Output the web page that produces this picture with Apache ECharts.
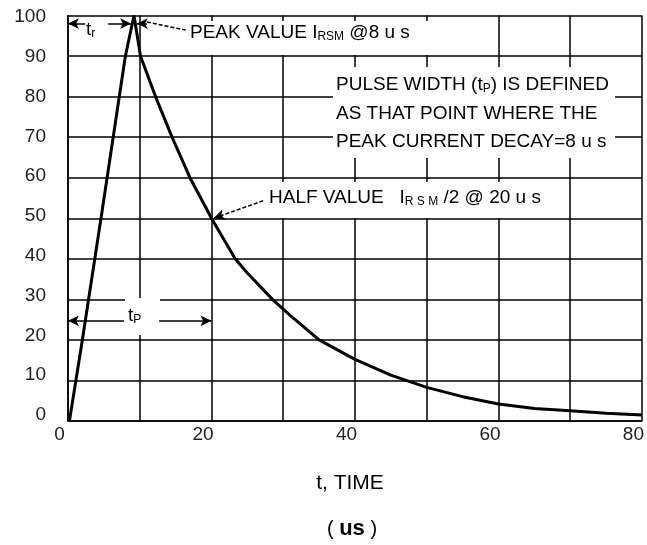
<!DOCTYPE html>
<html><head><meta charset="utf-8">
<script src="https://cdn.jsdelivr.net/npm/echarts@6/dist/echarts.min.js"></script>
<style>html,body{margin:0;padding:0;background:#fff}#c{width:647px;height:545px}</style>
</head><body><div id="c"></div>
<script>
// Pulse waveform: time (us) vs peak current (%)
const timeUs = [0.2, 2, 4.6, 8, 9.2, 10.1, 12.2, 14.5, 17, 20, 23.3, 25, 28.5, 31, 35, 40, 45, 50, 55, 60, 65, 70, 75, 80];
const currentPct = [0, 20, 50, 90, 100, 90, 80, 70, 60, 50, 40, 36.5, 30, 26, 20, 15.2, 11.3, 8.3, 6, 4.2, 3.1, 2.5, 1.9, 1.5];
const xTickLabels = [0, 20, 40, 60, 80];
const yTickLabels = [0, 10, 20, 30, 40, 50, 60, 70, 80, 90, 100];
const xTitle = 't, TIME';
const xUnit = 'us';

const FONT = 'Liberation Sans, Arial, sans-serif';
const chart = echarts.init(document.getElementById('c'), null, {renderer: 'canvas'});

const arrowLine = (a, b, arrowEnd, dashed) => [
  {coord: a, symbol: 'none'},
  {coord: b, symbol: arrowEnd ? 'arrow' : 'none', symbolSize: [8, 11],
   lineStyle: {color: '#000', width: 1.5, type: dashed ? [4, 2] : 'solid'}}
];

const sub = {s: {fontSize: 12, fontFamily: FONT, fill: '#000', padding: [8, 0, 0, 0]}};

function txt(x, y, text, size, extra) {
  return {type: 'text', z: 10, x: x, y: y,
    style: Object.assign({text: text, fontSize: size || 19, fontFamily: FONT, fill: '#000',
      verticalAlign: 'middle', align: 'left', rich: sub}, extra || {})};
}
function box(x, y, w, h) {
  return {type: 'rect', z: 1, shape: {x: x, y: y, width: w, height: h}, style: {fill: '#fff'}};
}

chart.setOption({
  animation: false,
  backgroundColor: '#fff',
  grid: {left: 68, right: 0, top: 15.5, bottom: 124, containLabel: false},
  xAxis: {
    type: 'value', min: 0, max: 80, interval: 10,
    axisLine: {show: true, lineStyle: {color: '#000', width: 1.5}},
    axisTick: {show: false},
    splitLine: {show: true, lineStyle: {color: '#000', width: 1.5}},
    axisLabel: {
      fontSize: 19, fontFamily: FONT, color: '#222', margin: 4,
      padding: [0, 17, 0, 0],
      formatter: v => xTickLabels.indexOf(v) >= 0 ? String(v) : ''
    }
  },
  yAxis: [{
    type: 'value', min: 0, max: 100, interval: 10,
    axisLine: {show: true, lineStyle: {color: '#000', width: 1.5}},
    axisTick: {show: false},
    splitLine: {show: true, lineStyle: {color: '#000', width: 1.5}},
    axisLabel: {show: false}
  }, {
    type: 'value', min: -1.508, max: 100.377, position: 'left',
    axisLine: {show: false}, axisTick: {show: false}, splitLine: {show: false},
    axisLabel: {show: true, customValues: yTickLabels, fontSize: 19, fontFamily: FONT, color: '#222', margin: 22}
  }],
  series: [{
    type: 'line', yAxisIndex: 0, showSymbol: false, symbol: 'none', z: 5,
    data: timeUs.map((t, i) => [t, currentPct[i]]),
    lineStyle: {color: '#000', width: 3},
    markLine: {
      silent: true, symbol: 'none', label: {show: false},
      lineStyle: {color: '#000', width: 1.5, type: 'solid'},
      data: [
        arrowLine([2.4, 98], [0, 98], true),
        arrowLine([5.6, 98], [8.8, 98], true),
        arrowLine([11, 98], [9.6, 98], true),
        arrowLine([11, 98.4], [16.4, 96.4], false, true),
        arrowLine([27.2, 54.3], [20.3, 50], true, true),
        arrowLine([7.8, 24.7], [0, 24.7], true),
        arrowLine([12.7, 24.7], [20, 24.7], true)
      ]
    }
  }],
  graphic: [
    box(184, 21, 290, 34),
    box(333, 67, 282, 91),
    box(263, 182, 300, 36),
    box(125, 298, 35, 37),
    txt(86, 30, 't{s|r}'),
    txt(190, 33, 'PEAK VALUE I{s|RSM} @8 u s'),
    txt(336, 85, 'PULSE WIDTH (t{s|P}) IS DEFINED'),
    txt(336, 114, 'AS THAT POINT WHERE THE'),
    txt(336, 142, 'PEAK CURRENT DECAY=8 u s'),
    txt(269, 198, 'HALF VALUE   I{s|R S M} /2 @ 20 u s'),
    txt(128, 316, 't{s|P}'),
    txt(350, 483, xTitle, 21, {align: 'center'}),
    txt(352, 529, '( {b|' + xUnit + '} )', 20, {align: 'center', rich: {b: {fontSize: 22, fontWeight: 'bold', fontFamily: FONT, fill: '#000'}}})
  ]
});
</script>
</body></html>
